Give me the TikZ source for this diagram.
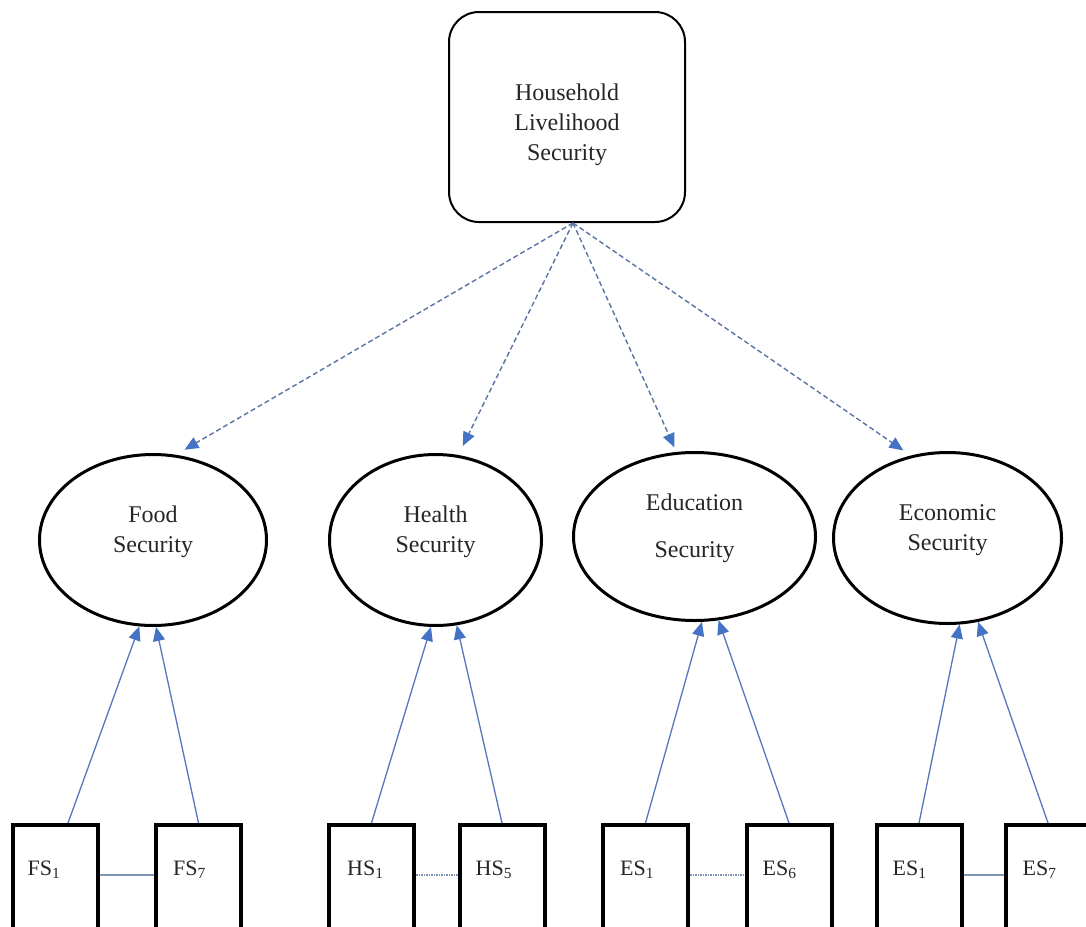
\documentclass[tikz,border=0pt]{standalone}
\usepackage{fontspec}
\setmainfont{Liberation Serif}
\usetikzlibrary{arrows.meta,shapes.geometric}
\definecolor{arrblue}{HTML}{4472C4}
\definecolor{lineblue}{HTML}{5677BC}
\definecolor{dashblue}{HTML}{5A73A3}
\definecolor{linkgray}{HTML}{7F93B3}
\begin{document}
\begin{tikzpicture}[x=1pt,y=-1pt,
  txt/.style={font=\fontsize{24}{30}\selectfont, text=black!85, align=center},
  topbox/.style={draw, line width=2pt, rounded corners=30pt, minimum width=236pt, minimum height=210pt, inner sep=0pt, txt},
  latent/.style={ellipse, draw, line width=3pt, inner sep=0pt, txt},
  indbox/.style={draw, line width=4pt, minimum width=85pt, minimum height=130pt, inner sep=0pt},
  lbl/.style={font=\fontsize{22}{26}\selectfont, text=black!85, anchor=base west, inner sep=0pt},
  tipstyle/.style={-{Triangle[length=14pt,width=12pt,color=arrblue]}},
  dasharrow/.style={draw=dashblue, line width=1.4pt, dash pattern=on 5pt off 3pt, tipstyle},
  indarrow/.style={draw=lineblue, line width=1.3pt, tipstyle},
  solidlink/.style={draw=linkgray, line width=1.2pt},
  dotlink/.style={draw=linkgray, line width=1.3pt, dash pattern=on 1.5pt off 1pt}
]
\useasboundingbox (0,0) rectangle (1086,926);
\clip (0,0) rectangle (1086,926);
\fill[white] (0,0) rectangle (1086,926);

% top construct
\node[topbox] (hls) at (567,117) {\mbox{}\\[3pt]Household\\Livelihood\\Security};

% latent constructs
\node[latent, minimum width=227pt, minimum height=171pt] (food) at (153,540) {Food\\Security\\[-9pt]\mbox{}};
\node[latent, minimum width=212pt, minimum height=171pt] (health) at (435.5,540) {Health\\Security\\[-9pt]\mbox{}};
\node[latent, minimum width=242pt, minimum height=168pt] (edu) at (694.5,536.5) {Education\\[17pt]Security\\[-9pt]\mbox{}};
\node[latent, minimum width=228pt, minimum height=171pt] (econ) at (947.5,538) {Economic\\Security\\[-9pt]\mbox{}};

% indicator boxes
\node[indbox] (f1) at (55,890) {};
\node[indbox] (f7) at (198.5,890) {};
\node[indbox] (h1) at (371.5,890) {};
\node[indbox] (h5) at (502,890) {};
\node[indbox] (e1) at (645.5,890) {};
\node[indbox] (e6) at (789,890) {};
\node[indbox] (c1) at (919,890) {};
\node[indbox] (c7) at (1048,890) {};

\node[lbl] (f1t) at ([xshift=17pt,yshift=-52pt]f1.north west) {FS\textsubscript{1}};
\node[lbl] (f7t) at ([xshift=19pt,yshift=-52pt]f7.north west) {FS\textsubscript{7}};
\node[lbl] (h1t) at ([xshift=20pt,yshift=-52pt]h1.north west) {HS\textsubscript{1}};
\node[lbl] (h5t) at ([xshift=18pt,yshift=-52pt]h5.north west) {HS\textsubscript{5}};
\node[lbl] (e1t) at ([xshift=19pt,yshift=-52pt]e1.north west) {ES\textsubscript{1}};
\node[lbl] (e6t) at ([xshift=18pt,yshift=-52pt]e6.north west) {ES\textsubscript{6}};
\node[lbl] (c1t) at ([xshift=18pt,yshift=-52pt]c1.north west) {ES\textsubscript{1}};
\node[lbl] (c7t) at ([xshift=19pt,yshift=-52pt]c7.north west) {ES\textsubscript{7}};

% links between indicator boxes
\draw[solidlink] ([yshift=15pt]f1.east) -- ([yshift=15pt]f7.west);
\draw[dotlink] ([yshift=15pt]h1.east) -- ([yshift=15pt]h5.west);
\draw[dotlink] ([yshift=15pt]e1.east) -- ([yshift=15pt]e6.west);
\draw[solidlink] ([yshift=15pt]c1.east) -- ([yshift=15pt]c7.west);

% indicator arrows
\draw[indarrow] ([xshift=13pt]f1.north) -- (food.261.5);
\draw[indarrow] (f7.north) -- (food.272);
\draw[indarrow] (h1.north) -- (health.267);
\draw[indarrow] (h5.north) -- (health.284.5);
\draw[indarrow] (e1.north) -- (edu.275.7);
\draw[indarrow] (e6.north) -- (edu.286.6);
\draw[indarrow] (c1.north) -- (econ.278.2);
\draw[indarrow] (c7.north) -- (econ.290.5);

% dashed arrows from top construct
\draw[dasharrow, shorten >=10pt] ([xshift=6pt]hls.south) -- (food.75);
\draw[dasharrow, shorten >=10pt] ([xshift=6pt]hls.south) -- (health.75.5);
\draw[dasharrow, shorten >=5pt] ([xshift=6pt]hls.south) -- (edu.102.8);
\draw[dasharrow, shorten >=9pt] ([xshift=6pt]hls.south) -- (econ.114.7);
\end{tikzpicture}
\end{document}
